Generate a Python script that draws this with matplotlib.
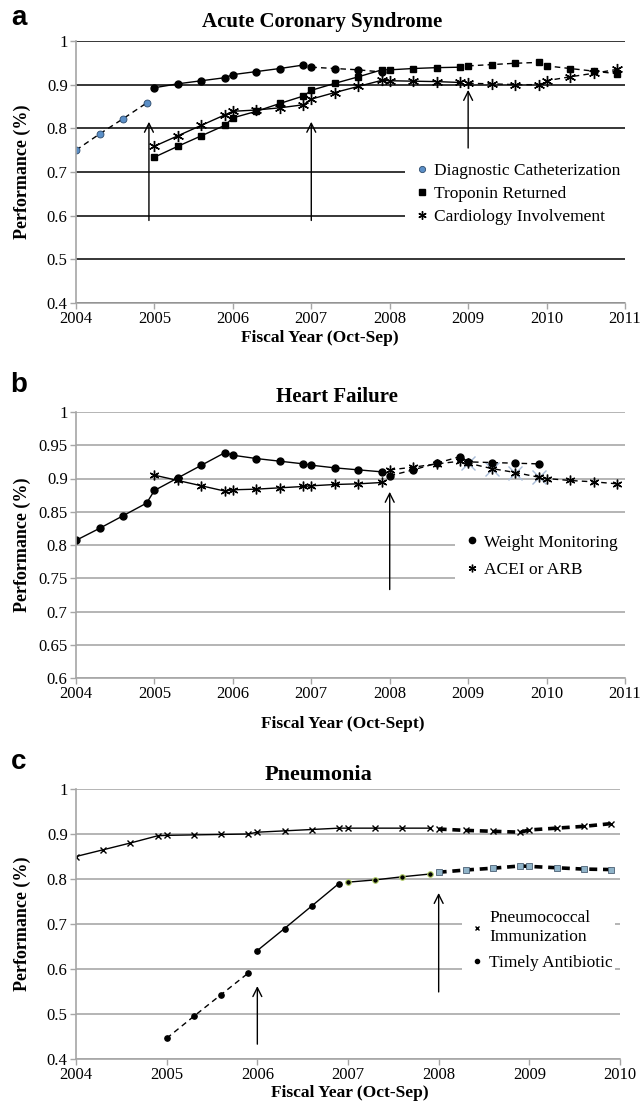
import numpy as np
import matplotlib
matplotlib.use('Agg')
import matplotlib.pyplot as plt
from matplotlib.lines import Line2D
from matplotlib.patches import Rectangle

plt.rcParams['font.family'] = ['Liberation Serif', 'DejaVu Serif']

# ---- panel a: Acute Coronary Syndrome ----
acs_cath_x = [2004.0, 2004.3, 2004.6, 2004.9]
acs_cath_y = [0.750, 0.787, 0.822, 0.858]
acs_cath2_x = [2005.0, 2005.3, 2005.6, 2005.9, 2006.0, 2006.3, 2006.6, 2006.9]
acs_cath2_y = [0.893, 0.902, 0.909, 0.916, 0.923, 0.930, 0.937, 0.945]
acs_cath2d_x = [2007.0, 2007.3, 2007.6, 2007.9]
acs_cath2d_y = [0.940, 0.937, 0.934, 0.929]
acs_q_x = [2005.0, 2005.3, 2005.6, 2005.9, 2006.0, 2006.3, 2006.6, 2006.9,
           2007.0, 2007.3, 2007.6, 2007.9, 2008.0, 2008.3, 2008.6, 2008.9,
           2009.0, 2009.3, 2009.6, 2009.9, 2010.0, 2010.3, 2010.6, 2010.9]
acs_trop_y = [0.734, 0.759, 0.783, 0.807, 0.824, 0.839, 0.857, 0.874,
              0.887, 0.903, 0.918, 0.934, 0.934, 0.937, 0.939, 0.940,
              0.943, 0.946, 0.949, 0.951, 0.943, 0.937, 0.931, 0.925]
acs_card_y = [0.759, 0.783, 0.807, 0.831, 0.839, 0.842, 0.847, 0.854,
              0.867, 0.882, 0.896, 0.910, 0.909, 0.908, 0.907, 0.905,
              0.903, 0.902, 0.900, 0.900, 0.909, 0.918, 0.926, 0.935]
acs_split = 16
acs_arrow_x = [2004.93, 2007.0, 2009.0]
acs_arrow_tip = [0.815, 0.815, 0.888]
acs_arrow_base = [0.589, 0.589, 0.755]
acs_labels = ['Diagnostic Catheterization', 'Troponin Returned', 'Cardiology Involvement']

# ---- panel b: Heart Failure ----
hf_w_x = [2004.0, 2004.3, 2004.6, 2004.9, 2005.0, 2005.3, 2005.6, 2005.9,
          2006.0, 2006.3, 2006.6, 2006.9, 2007.0, 2007.3, 2007.6, 2007.9]
hf_w_y = [0.807, 0.825, 0.844, 0.863, 0.882, 0.901, 0.920, 0.939,
          0.935, 0.930, 0.926, 0.922, 0.920, 0.916, 0.913, 0.910]
hf_wd_x = [2008.0, 2008.3, 2008.6, 2008.9, 2009.0, 2009.3, 2009.6, 2009.9]
hf_wd_y = [0.904, 0.913, 0.923, 0.933, 0.925, 0.924, 0.923, 0.922]
hf_a_x = [2005.0, 2005.3, 2005.6, 2005.9, 2006.0, 2006.3, 2006.6, 2006.9,
          2007.0, 2007.3, 2007.6, 2007.9]
hf_a_y = [0.905, 0.897, 0.889, 0.881, 0.883, 0.884, 0.886, 0.888,
          0.889, 0.891, 0.892, 0.894]
hf_ad_x = [2008.0, 2008.3, 2008.6, 2008.9, 2009.0, 2009.3, 2009.6, 2009.9,
           2010.0, 2010.3, 2010.6, 2010.9]
hf_ad_y = [0.913, 0.917, 0.922, 0.926, 0.923, 0.915, 0.909, 0.902,
           0.900, 0.897, 0.895, 0.892]
hf_arrow_x = [2008.0]
hf_arrow_tip = [0.880]
hf_arrow_base = [0.733]
hf_labels = ['Weight Monitoring', 'ACEI or ARB']

# ---- panel c: Pneumonia ----
pn_p_x = [2004.0, 2004.3, 2004.6, 2004.9, 2005.0, 2005.3, 2005.6, 2005.9,
          2006.0, 2006.3, 2006.6, 2006.9, 2007.0, 2007.3, 2007.6, 2007.9]
pn_p_y = [0.850, 0.865, 0.880, 0.896, 0.897, 0.898, 0.899, 0.900,
          0.904, 0.907, 0.910, 0.913, 0.913, 0.913, 0.913, 0.913]
pn_late_x = [2008.0, 2008.3, 2008.6, 2008.9, 2009.0, 2009.3, 2009.6, 2009.9]
pn_pd_y = [0.911, 0.908, 0.906, 0.904, 0.909, 0.913, 0.917, 0.923]
pn_t1_x = [2005.0, 2005.3, 2005.6, 2005.9]
pn_t1_y = [0.446, 0.495, 0.543, 0.591]
pn_t2_x = [2006.0, 2006.3, 2006.6, 2006.9]
pn_t2_y = [0.641, 0.690, 0.740, 0.790]
pn_t3_x = [2007.0, 2007.3, 2007.6, 2007.9]
pn_t3_y = [0.793, 0.798, 0.805, 0.811]
pn_td_y = [0.815, 0.820, 0.824, 0.829, 0.828, 0.825, 0.822, 0.821]
pn_arrow_x = [2006.0, 2008.0]
pn_arrow_tip = [0.562, 0.769]
pn_arrow_base = [0.433, 0.549]
pn_labels = ['Pneumococcal\nImmunization', 'Timely Antibiotic']

W, H = 643, 1107
fig = plt.figure(figsize=(W / 100, H / 100), dpi=100)

def px_axes(l, r, t, b):
    return fig.add_axes([l / W, 1 - b / H, (r - l) / W, (b - t) / H])

star = (6, 2, 0)
TICK = 12
LEG = 12.5
AX_GREY = '#a6a6a6'

def style(ax, xlim, ylim, yticks, ylabs, gridcol):
    ax.set_xlim(*xlim)
    ax.set_ylim(*ylim)
    ax.set_xticks(range(xlim[0], xlim[1] + 1))
    ax.set_yticks(yticks)
    ax.set_yticklabels(ylabs)
    for s in ['top', 'right']:
        ax.spines[s].set_visible(False)
    for s in ['left', 'bottom']:
        ax.spines[s].set_color(AX_GREY)
        ax.spines[s].set_linewidth(1.2)
    ax.tick_params(direction='out', length=4, width=1, color=AX_GREY,
                   labelsize=TICK, pad=2)
    ax.set_axisbelow(True)
    ax.yaxis.grid(True, color=gridcol, lw=1.1)

def arrows(ax, xs, tips, bases):
    for x, t, b in zip(xs, tips, bases):
        ax.annotate('', xy=(x, t), xytext=(x, b),
                    arrowprops=dict(arrowstyle='->', lw=1, color='black',
                                    mutation_scale=16, shrinkA=0, shrinkB=0))

def cover(ax, x0, y0, x1, y1):
    ax.add_patch(Rectangle((x0, y0), x1 - x0, y1 - y0, transform=ax.transAxes,
                           facecolor='white', edgecolor='none', zorder=1,
                           clip_on=False))

dash = (0, (4, 3))

# ---- a ----
ax = px_axes(76, 625, 41, 303)
style(ax, (2004, 2011), (0.4, 1.0), np.arange(0.4, 1.01, 0.1),
      ['0.4', '0.5', '0.6', '0.7', '0.8', '0.9', '1'], 'black')
ax.plot(acs_cath_x, acs_cath_y, ls=dash, color='black', lw=1, marker='o',
        ms=5, mfc='#5b8fc7', mec='#2d4a6b', mew=0.6)
ax.plot(acs_cath2_x, acs_cath2_y, '-', color='black', lw=1, marker='o', ms=5)
ax.plot(acs_cath2d_x, acs_cath2d_y, ls=dash, color='black', lw=1, marker='o', ms=5)
ax.plot(acs_q_x[:acs_split], acs_trop_y[:acs_split], '-', color='black', lw=1,
        marker='s', ms=5)
ax.plot(acs_q_x[acs_split:], acs_trop_y[acs_split:], ls=dash, color='black',
        lw=1, marker='s', ms=5)
ax.plot(acs_q_x[:acs_split], acs_card_y[:acs_split], '-', color='black', lw=1,
        marker=star, ms=8, mew=1)
ax.plot(acs_q_x[acs_split:], acs_card_y[acs_split:], ls=dash, color='black',
        lw=1, marker=star, ms=8, mew=1)
arrows(ax, acs_arrow_x, acs_arrow_tip, acs_arrow_base)
cover(ax, 0.599, 0.28, 1.0, 0.55)
hand = [Line2D([], [], ls='none', marker='o', ms=4.5, mfc='#5b8fc7', mec='#2d4a6b', mew=0.6),
        Line2D([], [], ls='none', marker='s', ms=4.5, color='black'),
        Line2D([], [], ls='none', marker=star, ms=6, color='black', mew=1)]
ax.legend(hand, acs_labels, loc='upper left', bbox_to_anchor=(0.618, 0.535),
          frameon=False, fontsize=LEG, handlelength=0.8, handletextpad=0.3,
          labelspacing=0.4, borderpad=0, borderaxespad=0)

# ---- b ----
ax = px_axes(76, 625, 412, 678)
style(ax, (2004, 2011), (0.6, 1.0), np.arange(0.6, 1.001, 0.05),
      ['0.6', '0.65', '0.7', '0.75', '0.8', '0.85', '0.9', '0.95', '1'], '#a0a0a0')
ax.plot(hf_w_x, hf_w_y, '-', color='black', lw=1, marker='o', ms=5)
ax.plot(hf_wd_x, hf_wd_y, ls=dash, color='black', lw=1, marker='o', ms=5)
ax.plot(hf_a_x, hf_a_y, '-', color='black', lw=1, marker=star, ms=7, mew=1)
ax.plot(hf_ad_x, hf_ad_y, ls=dash, color='black', lw=1, marker=star, ms=7, mew=1)
ax.plot(hf_ad_x[4:8], hf_ad_y[4:8], ls='none', marker='x', ms=10, mew=1,
        color='#a9bcd8', zorder=1.8)
arrows(ax, hf_arrow_x, hf_arrow_tip, hf_arrow_base)
cover(ax, 0.69, 0.30, 1.0, 0.575)
hand = [Line2D([], [], ls='none', marker='o', ms=4.5, color='black'),
        Line2D([], [], ls='none', marker=star, ms=5.5, color='black', mew=1)]
ax.legend(hand, hf_labels, loc='upper left', bbox_to_anchor=(0.708, 0.54),
          frameon=False, fontsize=LEG, handlelength=0.8, handletextpad=0.3,
          labelspacing=0.65, borderpad=0, borderaxespad=0)

# ---- c ----
ax = px_axes(76, 620, 789, 1059)
style(ax, (2004, 2010), (0.4, 1.0), np.arange(0.4, 1.01, 0.1),
      ['0.4', '0.5', '0.6', '0.7', '0.8', '0.9', '1'], '#a0a0a0')
ax.plot(pn_p_x, pn_p_y, '-', color='black', lw=1, marker='x', ms=4, mew=1)
ax.plot(pn_late_x, pn_pd_y, ls=(0, (2.2, 1.6)), color='black', lw=2.6,
        marker='x', ms=4, mew=1)
ax.plot(pn_t1_x, pn_t1_y, ls=dash, color='black', lw=1, marker='o', ms=3.8)
ax.plot(pn_t2_x, pn_t2_y, '-', color='black', lw=1, marker='o', ms=3.8)
ax.plot(pn_t3_x, pn_t3_y, '-', color='black', lw=1, marker='o', ms=4,
        mfc='black', mec='#b5d16a', mew=0.8)
ax.plot(pn_late_x, pn_td_y, ls=(0, (2.2, 1.6)), color='black', lw=2.6,
        marker='s', ms=4, mfc='#8fb3c8', mec='#4a5f73', mew=0.6)
arrows(ax, pn_arrow_x, pn_arrow_tip, pn_arrow_base)
cover(ax, 0.71, 0.25, 0.99, 0.585)
hand = [Line2D([], [], ls='none', marker='x', ms=3.5, color='black', mew=1),
        Line2D([], [], ls='none', marker='o', ms=3, color='black')]
ax.legend(hand, pn_labels, loc='upper left', bbox_to_anchor=(0.725, 0.55),
          frameon=False, fontsize=LEG, handlelength=0.8, handletextpad=0.3,
          labelspacing=0.6, borderpad=0, borderaxespad=0)

# titles, axis labels, panel letters
def ftext(x, y, s, **kw):
    fig.text(x / W, 1 - y / H, s, ha='center', va='center', **kw)

for (lx, ly, let) in [(19, 18, 'a'), (19, 385, 'b'), (19, 762, 'c')]:
    ftext(lx, ly, let, family=['Liberation Sans', 'DejaVu Sans'],
          fontweight='bold', fontsize=20)
for (tx, ty, tt, fs) in [(322, 22, 'Acute Coronary Syndrome', 15),
                         (337, 397, 'Heart Failure', 15),
                         (318, 775, 'Pneumonia', 16)]:
    ftext(tx, ty, tt, fontweight='bold', fontsize=fs)
for (tx, ty, tt) in [(320, 338, 'Fiscal Year (Oct-Sep)'), (343, 724, 'Fiscal Year (Oct-Sept)'),
                     (350, 1093, 'Fiscal Year (Oct-Sep)')]:
    ftext(tx, ty, tt, fontweight='bold', fontsize=12.5)
for yc in [172, 545, 924]:
    ftext(22, yc, 'Performance (%)', fontweight='bold', fontsize=13, rotation=90)

fig.savefig('out.png', dpi=100)
